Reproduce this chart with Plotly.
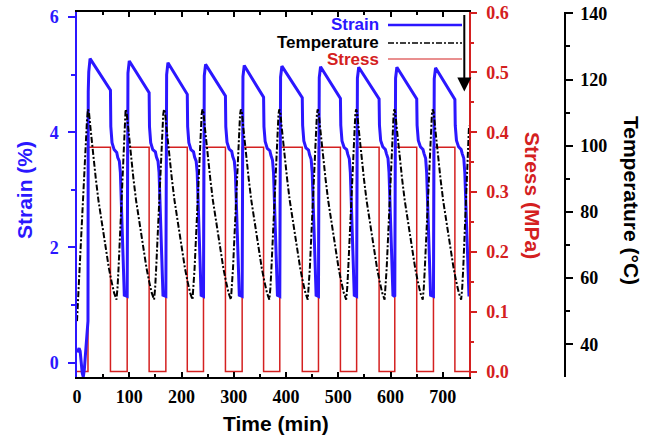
import plotly.graph_objects as go

# ---------------- data ----------------
stress_time = [0, 21, 64, 96, 138, 170, 211, 242, 284, 316, 357, 388, 431, 462,
               504, 535, 578, 608, 650, 682, 723, 750]
stress_mpa = [0, 0.375, 0, 0.375, 0, 0.375, 0, 0.375, 0, 0.375, 0, 0.375, 0, 0.375,
              0, 0.375, 0, 0.375, 0, 0.375, 0, 0]

strain_time = [
    0, 2, 4, 6, 8, 10, 12, 14, 16, 18, 20, 21,
    21.5, 22.5, 25, 64, 64.7, 67, 71, 76, 78, 81, 83, 85, 87, 89, 90.5,
    96, 96.5, 97.5, 100, 138, 138.7, 141, 145, 150, 152, 155, 157, 159, 161, 163, 164.5,
    170, 170.5, 171.5, 174, 211, 211.7, 214, 218, 223, 225, 228, 230, 232, 234, 236, 237.5,
    242, 242.5, 243.5, 246, 284, 284.7, 287, 291, 296, 298, 301, 303, 305, 307, 309, 310.5,
    316, 316.5, 317.5, 320, 357, 357.7, 360, 364, 369, 371, 374, 376, 378, 380, 382, 383.5,
    388, 388.5, 389.5, 392, 431, 431.7, 434, 438, 443, 445, 448, 450, 452, 454, 456, 457.5,
    462, 462.5, 463.5, 466, 504, 504.7, 507, 511, 516, 518, 521, 523, 525, 527, 529, 530.5,
    535, 535.5, 536.5, 539, 578, 578.7, 581, 585, 590, 592, 595, 597, 599, 601, 603, 604.5,
    608, 608.5, 609.5, 612, 650, 650.7, 653, 657, 662, 664, 667, 669, 671, 673, 675, 676.5,
    682, 682.5, 683.5, 686, 723, 723.7, 726, 730, 735, 737, 740, 742, 744, 746, 748, 749.5, 750]
strain_pct = [
    0.18, 0.22, 0.25, 0.2, 0.0, -0.18, -0.25, -0.12, 0.12, 0.35, 0.6, 0.72,
    4.7, 5.05, 5.28, 4.73, 4.1, 3.82, 3.7, 3.65, 3.56, 3.5, 3.3, 2.8, 2.1, 1.45, 1.17,
    1.15, 4.7, 5.03, 5.24, 4.69, 4.1, 3.82, 3.7, 3.66, 3.57, 3.5, 3.3, 2.8, 2.1, 1.45, 1.17,
    1.15, 4.7, 5.0, 5.21, 4.66, 4.1, 3.82, 3.7, 3.66, 3.57, 3.5, 3.3, 2.8, 2.1, 1.45, 1.17,
    1.15, 4.7, 4.98, 5.18, 4.63, 4.1, 3.83, 3.71, 3.67, 3.58, 3.5, 3.3, 2.8, 2.1, 1.45, 1.17,
    1.15, 4.7, 4.97, 5.16, 4.61, 4.1, 3.84, 3.72, 3.68, 3.6, 3.52, 3.3, 2.8, 2.1, 1.45, 1.17,
    1.15, 4.7, 4.96, 5.15, 4.6, 4.12, 3.85, 3.73, 3.69, 3.61, 3.53, 3.3, 2.8, 2.1, 1.45, 1.17,
    1.15, 4.7, 4.95, 5.14, 4.59, 4.12, 3.85, 3.74, 3.7, 3.62, 3.54, 3.3, 2.8, 2.1, 1.45, 1.17,
    1.15, 4.7, 4.94, 5.13, 4.58, 4.12, 3.86, 3.75, 3.7, 3.63, 3.55, 3.3, 2.8, 2.1, 1.45, 1.17,
    1.15, 4.7, 4.94, 5.13, 4.58, 4.12, 3.86, 3.75, 3.7, 3.63, 3.55, 3.3, 2.8, 2.1, 1.45, 1.17,
    1.15, 4.7, 4.93, 5.12, 4.57, 4.12, 3.86, 3.75, 3.7, 3.63, 3.55, 3.3, 2.8, 2.1, 1.45, 1.17, 1.15]

temp_time = [
    0, 4, 8, 12, 16, 19, 21,
    23, 26, 31, 36, 41, 46, 51, 56, 61, 66, 71, 75.5,
    77.5, 79.5, 81.5, 83.5, 85.5, 87.5, 89.5, 91.5, 93,
    95, 98, 103, 108, 113, 118, 123, 128, 133, 138, 143, 147.5,
    149.5, 151.5, 153.5, 155.5, 157.5, 159.5, 161.5, 163.5, 165, 166.5,
    168.5, 171.5, 176.5, 181.5, 186.5, 191.5, 196.5, 201.5, 206.5, 211.5, 216.5, 221,
    223, 225, 227, 229, 231, 233, 235, 237, 238.5, 240,
    242, 245, 250, 255, 260, 265, 270, 275, 280, 285, 290, 294.5,
    296.5, 298.5, 300.5, 302.5, 304.5, 306.5, 308.5, 310.5, 312, 313.5,
    315.5, 318.5, 323.5, 328.5, 333.5, 338.5, 343.5, 348.5, 353.5, 358.5, 363.5, 368,
    370, 372, 374, 376, 378, 380, 382, 384, 385.5, 387,
    389, 392, 397, 402, 407, 412, 417, 422, 427, 432, 437, 441.5,
    443.5, 445.5, 447.5, 449.5, 451.5, 453.5, 455.5, 457.5, 459, 460.5,
    462.5, 465.5, 470.5, 475.5, 480.5, 485.5, 490.5, 495.5, 500.5, 505.5, 510.5, 515,
    517, 519, 521, 523, 525, 527, 529, 531, 532.5, 534,
    536, 539, 544, 549, 554, 559, 564, 569, 574, 579, 584, 588.5,
    590.5, 592.5, 594.5, 596.5, 598.5, 600.5, 602.5, 604.5, 605.8, 607,
    609, 612, 617, 622, 627, 632, 637, 642, 647, 652, 657, 661.5,
    663.5, 665.5, 667.5, 669.5, 671.5, 673.5, 675.5, 677.5, 679, 680.5,
    682.5, 685.5, 690.5, 695.5, 700.5, 705.5, 710.5, 715.5, 720.5, 725.5, 730.5, 735,
    737, 739, 741, 743, 745, 747, 749, 750]
temp_c = [
    47, 60, 75, 88, 100, 107.5, 111,
    110, 105, 97, 90, 83.5, 78, 72.5, 67.5, 63, 59, 55.5, 53.5,
    57, 63, 70, 77.5, 85, 93, 100.5, 106.5, 111,
    110, 105, 97, 90, 83.5, 78, 72.5, 67.5, 63, 59, 55.5, 53.5,
    57, 63, 70, 77.5, 85, 93, 100.5, 106.5, 109.5, 111,
    110, 105, 97, 90, 83.5, 78, 72.5, 67.5, 63, 59, 55.5, 53.5,
    57, 63, 70, 77.5, 85, 93, 100.5, 106.5, 109.5, 111,
    110, 105, 97, 90, 83.5, 78, 72.5, 67.5, 63, 59, 55.5, 53.5,
    57, 63, 70, 77.5, 85, 93, 100.5, 106.5, 109.5, 111,
    110, 105, 97, 90, 83.5, 78, 72.5, 67.5, 63, 59, 55.5, 53.5,
    57, 63, 70, 77.5, 85, 93, 100.5, 106.5, 109.5, 111,
    110, 105, 97, 90, 83.5, 78, 72.5, 67.5, 63, 59, 55.5, 53.5,
    57, 63, 70, 77.5, 85, 93, 100.5, 106.5, 109.5, 111,
    110, 105, 97, 90, 83.5, 78, 72.5, 67.5, 63, 59, 55.5, 53.5,
    57, 63, 70, 77.5, 85, 93, 100.5, 106.5, 109.5, 111,
    110, 105, 97, 90, 83.5, 78, 72.5, 67.5, 63, 59, 55.5, 53.5,
    57, 63, 70, 77.5, 85, 93, 100.5, 106.5, 109.5, 111,
    110, 105, 97, 90, 83.5, 78, 72.5, 67.5, 63, 59, 55.5, 53.5,
    57, 63, 70, 77.5, 85, 93, 100.5, 106.5, 109.5, 111,
    110, 105, 97, 90, 83.5, 78, 72.5, 67.5, 63, 59, 55.5, 53.5,
    57, 63, 70, 77.5, 85, 93, 100.5, 106]

x_ticks = [0, 100, 200, 300, 400, 500, 600, 700]
strain_ticks = [0, 2, 4, 6]
stress_ticks = [0.0, 0.1, 0.2, 0.3, 0.4, 0.5, 0.6]
temp_ticks = [40, 60, 80, 100, 120, 140]

# ---------------- styling ----------------
BLUE = "#2b17ff"
RED = "#d42020"
BLACK = "#000000"
SERIF = "Liberation Serif, Times New Roman, serif"
SANS = "Liberation Sans, Arial, sans-serif"

W, H = 654, 437
ML, MR, MT, MB = 77, 54, 12, 60
PW = W - ML - MR
PH = H - MT - MB
XD = 392 / PW  # x-domain fraction


def px(xs):
    """screen x (px) -> paper fraction"""
    return (xs - ML) / PW


def py(ys):
    """screen y (px) -> paper fraction"""
    return (H - MB - ys) / PH


fig = go.Figure()

fig.add_trace(go.Scatter(x=stress_time, y=stress_mpa, mode="lines", line_shape="hv",
                         line=dict(color=RED, width=1.5), yaxis="y", name="Stress"))
fig.add_trace(go.Scatter(x=strain_time, y=strain_pct, mode="lines",
                         line=dict(color=BLUE, width=3), yaxis="y2", name="Strain"))
fig.add_trace(go.Scatter(x=temp_time, y=temp_c, mode="lines",
                         line=dict(color=BLACK, width=2, dash="6px,2px,2px,2px"),
                         yaxis="y3", name="Temperature"))

tickfont = lambda c: dict(family=SERIF, size=18, color=c, weight="bold")
common = dict(showgrid=False, zeroline=False, automargin=False, showline=True,
              linewidth=1.5, tickwidth=1.5, ticklabeloverflow="allow")

fig.update_layout(
    template="none",
    width=W, height=H, margin=dict(l=ML, r=MR, t=MT, b=MB, autoexpand=False),
    paper_bgcolor="white", plot_bgcolor="white", showlegend=False,
    xaxis=dict(domain=[0, XD], range=[0, 750], tickvals=x_ticks, ticks="inside",
               ticklen=5, tickcolor=BLACK, linecolor=BLACK, mirror="ticks",
               tickfont=tickfont(BLACK), ticklabelstandoff=3,
               minor=dict(dtick=50, ticks="inside", ticklen=3, tickcolor=BLACK), **common),
    yaxis=dict(side="right", anchor="x", range=[-0.009, 0.601], tickvals=stress_ticks,
               tickformat=".1f", ticks="outside", ticklen=6, tickcolor=RED,
               linecolor=RED, tickfont=tickfont(RED), ticklabelstandoff=6,
               minor=dict(dtick=0.05, ticks="outside", ticklen=3, tickcolor=RED), **common),
    yaxis2=dict(overlaying="y", side="left", anchor="x", range=[-0.25, 6.09],
                tickvals=strain_ticks, ticks="outside", ticklen=7,
                tickcolor=BLUE, linecolor=BLUE, tickfont=tickfont(BLUE), ticklabelstandoff=6,
                minor=dict(dtick=1, ticks="outside", ticklen=4, tickcolor=BLUE), **common),
    yaxis3=dict(overlaying="y", side="right", anchor="free", position=px(565),
                range=[30.1, 140.4], tickvals=temp_ticks, ticks="outside", ticklen=7,
                tickcolor=BLACK, linecolor=BLACK, tickfont=tickfont(BLACK),
                ticklabelstandoff=4,
                minor=dict(dtick=10, ticks="outside", ticklen=4, tickcolor=BLACK), **common),
)

title_font = lambda c: dict(family=SANS, size=21, color=c, weight="bold")
ann = [
    dict(text="Time (min)", x=px(276), y=py(423), font=title_font(BLACK), textangle=0),
    dict(text="Strain (%)", x=px(24), y=py(190), font=title_font(BLUE), textangle=-90),
    dict(text="Stress (MPa)", x=px(533), y=py(195), font=title_font(RED), textangle=90),
    dict(text="Temperature (°C)", x=px(632), y=py(200), font=title_font(BLACK), textangle=90),
]
for a in ann:
    fig.add_annotation(xref="paper", yref="paper", showarrow=False,
                       xanchor="center", yanchor="middle", **a)

# legend (text on the left, sample line on the right)
leg_font = lambda c: dict(family=SANS, size=17, color=c, weight="bold")
legend_rows = [("Strain", BLUE, 25, "solid", 2.5), ("Temperature", BLACK, 43, "6px,2px,2px,2px", 1.5),
               ("Stress", RED, 59, "solid", 1.2)]
for name, col, yp, dash, lw in legend_rows:
    fig.add_annotation(xref="paper", yref="paper", x=px(381), y=py(yp), text=name,
                       showarrow=False, xanchor="right", yanchor="middle", font=leg_font(col))
    fig.add_shape(type="line", xref="paper", yref="paper", x0=px(388), x1=px(462),
                  y0=py(yp), y1=py(yp), line=dict(color=col, width=lw, dash=dash))

# arrow
fig.add_annotation(xref="paper", yref="paper", x=px(464.3), y=py(91.5), ax=0, ay=-78,
                   axref="pixel", ayref="pixel", text="", showarrow=True, arrowhead=2,
                   arrowsize=1.4, arrowwidth=2, arrowcolor=BLACK, standoff=0)

# remove the default 8px page margin so the figure sits at the window origin
fig.write_html("out.html", config={"displayModeBar": False},
               post_script="document.body.style.margin='0px';")
